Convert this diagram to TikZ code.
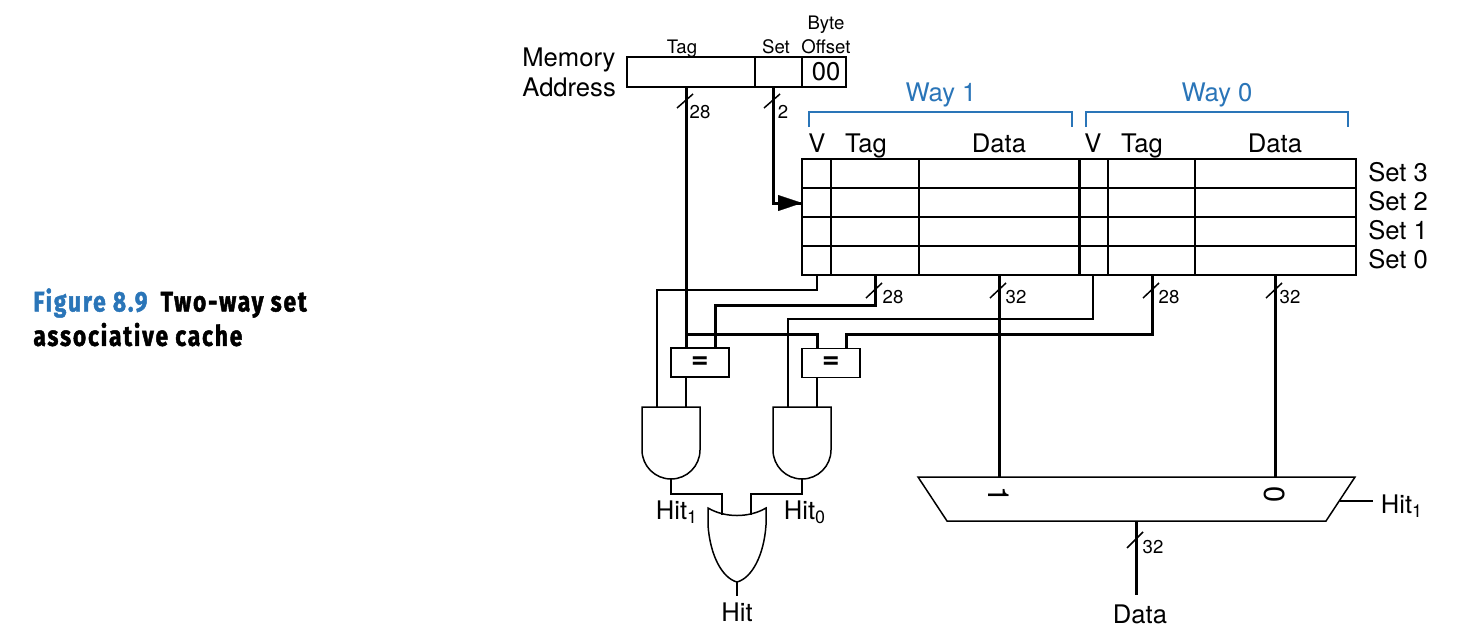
\documentclass[tikz,border=0pt]{standalone}
\usepackage{fontspec}
\setmainfont{TeX Gyre Heros}
\newfontfamily\capfont[FakeStretch=0.8,LetterSpace=6.5,BoldFeatures={FakeBold=1.6}]{Fira Sans}
\usepackage{tikz}
\usetikzlibrary{arrows.meta}
\definecolor{wayblue}{RGB}{42,117,184}
\tikzset{
    lbl/.style={anchor=base,inner sep=0pt,font=\fontsize{12.8}{15}\selectfont},
    tinylbl/.style={anchor=base,inner sep=0pt,font=\fontsize{9.3}{11}\selectfont},
    muxlbl/.style={anchor=center,inner sep=0pt,rotate=-90,font=\fontsize{14.5}{15}\selectfont},
    eqlbl/.style={draw,line width=.7pt,inner sep=0pt,outer sep=0pt,font=\fontsize{15}{15}\selectfont\bfseries},
    cell/.style={draw,line width=.7pt,inner sep=0pt,outer sep=0pt},
    bus/.style={line width=1.5pt},
    sig/.style={line width=.75pt},
    grid/.style={line width=.65pt},
    frame/.style={line width=1.1pt},
    gate/.style={line width=.75pt},
    brace/.style={wayblue,line width=.9pt}
}
\begin{document}
\begin{tikzpicture}[x=.5pt,y=-.5pt]
    \useasboundingbox (0,0) rectangle (1462,638);

    % caption
    \node [anchor=north west,inner sep=0pt,align=left,font=\fontsize{14.2}{17.2}\selectfont\capfont\bfseries] (caption) at (33,288)
        {\textcolor{wayblue}{Figure 8.9}\hspace{3pt} Two-way set\\associative cache};

    % memory address
    \node [anchor=north west,inner sep=0pt,align=left,font=\fontsize{12.8}{15.4}\selectfont] (memaddr) at (522,47) {Memory\\Address};
    \node [cell,minimum width=64pt,minimum height=15pt] (addrtag) at (691,72) {};
    \node [cell,minimum width=23.5pt,minimum height=15pt] (addrset) at (778.5,72) {};
    \node [cell,minimum width=22pt,minimum height=15pt] (addroff) at (824,72) {};
    \node [lbl] (offzero) at (826,80) {00};
    \node [tinylbl] (fldtag) at (682,53) {Tag};
    \node [tinylbl] (fldset) at (776,53) {Set};
    \node [tinylbl] (fldbyte) at (826,29) {Byte};
    \node [tinylbl] (fldoff) at (826,53) {Offset};

    % ways
    \draw [brace] (809,127) -- (809,112) -- (1072,112) -- (1072,127);
    \draw [brace] (1086,127) -- (1086,112) -- (1348,112) -- (1348,127);
    \node [lbl,text=wayblue] (wayone) at (941,101) {Way 1};
    \node [lbl,text=wayblue] (wayzero) at (1217,101) {Way 0};
    \node [lbl] (vone) at (817,152) {V};
    \node [lbl] (tagone) at (866,152) {Tag};
    \node [lbl] (dataone) at (999,152) {Data};
    \node [lbl] (vzero) at (1093,152) {V};
    \node [lbl] (tagzero) at (1142,152) {Tag};
    \node [lbl] (datazero) at (1275,152) {Data};

    % cache table
    \draw [grid] (802,188) -- (1356,188);
    \draw [grid] (802,217) -- (1356,217);
    \draw [grid] (802,246) -- (1356,246);
    \draw [grid] (831,159) -- (831,275);
    \draw [grid] (919,159) -- (919,275);
    \draw [grid] (1108,159) -- (1108,275);
    \draw [grid] (1195,159) -- (1195,275);
    \draw [bus] (1079,159) -- (1079,275);
    \draw [frame] (802,159) rectangle (1356,275);
    \node [lbl,anchor=base west] (setthree) at (1368,181) {Set 3};
    \node [lbl,anchor=base west] (settwo) at (1368,210) {Set 2};
    \node [lbl,anchor=base west] (setone) at (1368,239) {Set 1};
    \node [lbl,anchor=base west] (setzero) at (1368,268) {Set 0};

    % comparators
    \node [eqlbl,minimum width=29pt,minimum height=14.5pt] (cmpone) at (700,362.5) {=};
    \node [eqlbl,minimum width=29pt,minimum height=14.5pt] (cmpzero) at (831,363) {=};

    % gates
    \draw [gate] (642,407) -- (700,407) -- (700,450) .. controls (700,466) and (687,479) .. (671,479)
        .. controls (655,479) and (642,466) .. (642,450) -- cycle;
    \draw [gate] (773,407) -- (831,407) -- (831,450) .. controls (831,466) and (818,479) .. (802,479)
        .. controls (786,479) and (773,466) .. (773,450) -- cycle;
    \draw [gate] (708,508) .. controls (725,518) and (749,518) .. (766,508) -- (766,525)
        .. controls (764,555) and (752,578) .. (737,582) .. controls (722,578) and (710,555) .. (708,525) -- cycle;

    % mux
    \draw [gate] (918,477) -- (1355,477) -- (1326,521) -- (947,521) -- cycle;
    \node [muxlbl] (muxone) at (999,495) {1};
    \node [muxlbl] (muxzero) at (1275,495) {0};

    % junction points
    \coordinate (tagout) at (686,87);
    \coordinate (setout) at (773,87);
    \coordinate (tablein) at (802,203);
    \coordinate (vonetop) at (817,275);
    \coordinate (tagonetop) at (875,275);
    \coordinate (dataonetop) at (999,275);
    \coordinate (vzerotop) at (1093,275);
    \coordinate (tagzerotop) at (1152,275);
    \coordinate (datazerotop) at (1275,275);
    \coordinate (cmponea) at (686,348);
    \coordinate (cmponeb) at (715,348);
    \coordinate (cmpzeroa) at (817,349);
    \coordinate (cmpzerob) at (846,349);
    \coordinate (cmponeout) at (686,377);
    \coordinate (cmpzeroout) at (817,378);
    \coordinate (taptag) at (686,334);
    \coordinate (andonea) at (657,407);
    \coordinate (andoneb) at (686,407);
    \coordinate (andzeroa) at (788,407);
    \coordinate (andzerob) at (817,407);
    \coordinate (andoneout) at (671,479);
    \coordinate (andzeroout) at (802,479);
    \coordinate (ora) at (722,515);
    \coordinate (orb) at (751,515);
    \coordinate (orout) at (737,582);
    \coordinate (hitend) at (737,596);
    \coordinate (muxa) at (999,477);
    \coordinate (muxb) at (1275,477);
    \coordinate (muxout) at (1136,521);
    \coordinate (dataend) at (1136,595);
    \coordinate (muxsel) at (1340,501);
    \coordinate (selend) at (1373,501);

    % wires
    \draw [bus] (tagout) -- (cmponea);
    \draw [bus] (setout) |- (tablein);
    \draw [-{Triangle[length=12pt,width=8pt]},line width=.1pt] (778,203) -- (tablein);
    \draw [sig] (vonetop) -- (817,290) -- (657,290) -- (andonea);
    \draw [bus] (tagonetop) -- (875,305) -- (715,305) -- (cmponeb);
    \draw [bus] (taptag) -- (817,334) -- (cmpzeroa);
    \draw [sig] (vzerotop) -- (1093,319) -- (788,319) -- (andzeroa);
    \draw [bus] (tagzerotop) -- (1152,334) -- (846,334) -- (cmpzerob);
    \draw [bus] (dataonetop) -- (muxa);
    \draw [bus] (datazerotop) -- (muxb);
    \draw [bus] (muxout) -- (dataend);
    \draw [sig] (cmponeout) -- (andoneb);
    \draw [sig] (cmpzeroout) -- (andzerob);
    \draw [sig] (andoneout) -- (671,494) -- (722,494) -- (ora);
    \draw [sig] (andzeroout) -- (802,494) -- (751,494) -- (orb);
    \draw [sig] (orout) -- (hitend);
    \draw [sig] (muxsel) -- (selend);

    % bus widths
    \draw [sig] (677,108) -- (693,94);
    \draw [sig] (764,108) -- (780,94);
    \draw [sig] (866,298) -- (882,283);
    \draw [sig] (990,298) -- (1006,283);
    \draw [sig] (1143,298) -- (1159,283);
    \draw [sig] (1266,298) -- (1282,283);
    \draw [sig] (1127,548) -- (1143,532);
    \node [tinylbl] (wtag) at (700,118) {28};
    \node [tinylbl] (wset) at (783,118) {2};
    \node [tinylbl] (wtagone) at (893,303) {28};
    \node [tinylbl] (wdataone) at (1016,303) {32};
    \node [tinylbl] (wtagzero) at (1169,303) {28};
    \node [tinylbl] (wdatazero) at (1290,303) {32};
    \node [tinylbl] (wout) at (1153,553) {32};

    % signal names
    \node [lbl] (hitone) at (677,519) {Hit\textsubscript{1}};
    \node [lbl] (hitzero) at (805,519) {Hit\textsubscript{0}};
    \node [lbl] (hit) at (737,621) {Hit};
    \node [lbl] (hitsel) at (1402,513) {Hit\textsubscript{1}};
    \node [lbl] (dataname) at (1140,623) {Data};
\end{tikzpicture}
\end{document}
